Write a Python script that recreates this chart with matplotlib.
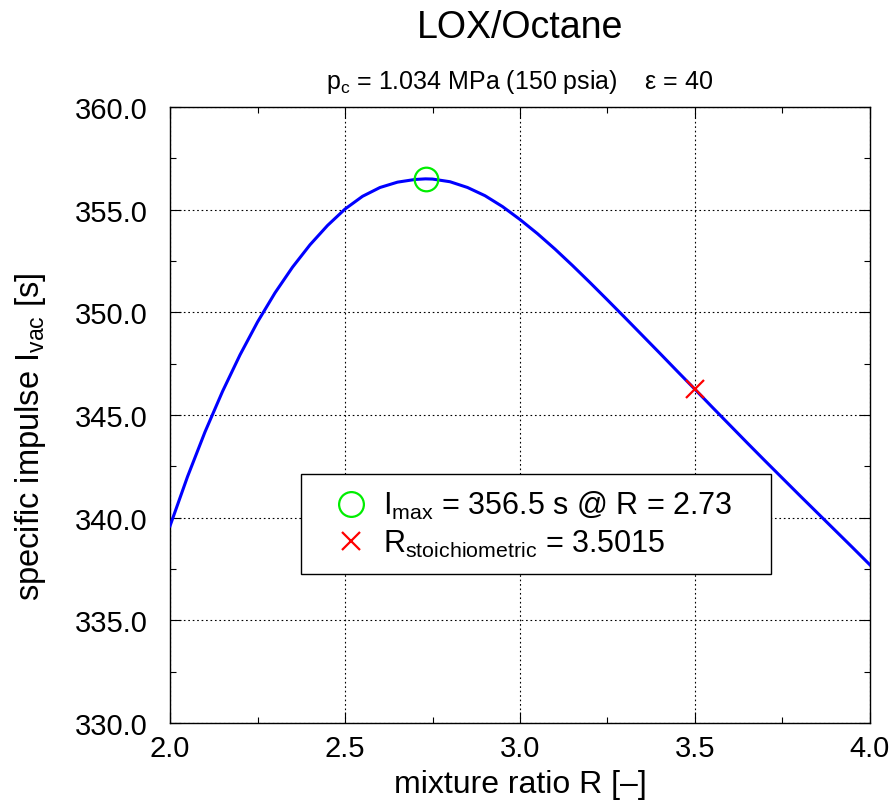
import matplotlib
matplotlib.use('Agg')
import matplotlib.pyplot as plt
from matplotlib.ticker import MultipleLocator

plt.rcParams['font.family'] = ['Liberation Sans', 'DejaVu Sans']
plt.rcParams['mathtext.fontset'] = 'custom'
plt.rcParams['mathtext.rm'] = 'Liberation Sans'
plt.rcParams['mathtext.it'] = 'Liberation Sans'
plt.rcParams['mathtext.default'] = 'regular'

# mixture ratio vs vacuum specific impulse
R = [2.00, 2.05, 2.10, 2.15, 2.20, 2.25, 2.30, 2.35, 2.40, 2.45,
     2.50, 2.55, 2.60, 2.65, 2.70, 2.73, 2.75, 2.80, 2.85, 2.90,
     2.95, 3.00, 3.05, 3.10, 3.15, 3.20, 3.25, 3.30, 3.35, 3.40,
     3.45, 3.50, 3.55, 3.60, 3.65, 3.70, 3.75, 3.80, 3.85, 3.90,
     3.95, 4.00]
Isp = [339.60, 342.00, 344.18, 346.15, 347.93, 349.53, 350.95, 352.20, 353.29, 354.23,
       355.03, 355.65, 356.08, 356.34, 356.47, 356.50, 356.49, 356.36, 356.08, 355.68,
       355.15, 354.52, 353.83, 353.08, 352.28, 351.45, 350.60, 349.74, 348.87, 348.00,
       347.12, 346.25, 345.37, 344.50, 343.63, 342.77, 341.92, 341.07, 340.23, 339.39,
       338.55, 337.70]

R_opt = 2.73
I_max = 356.5
R_stoich = 3.5015
I_stoich = 346.25

fig = plt.figure(figsize=(8.95, 8.12), dpi=100)
ax = fig.add_axes([0.19, 0.1084, 0.782, 0.7586])

ax.plot(R, Isp, color='#0000ff', lw=2.2, zorder=3)
ax.plot(R_opt, I_max, 'o', mfc='none', mec='#00ee00', mew=1.6, ms=17,
        ls='none', zorder=4, label='I$_{max}$ = 356.5 s @ R = 2.73')
ax.plot(R_stoich, I_stoich, 'x', color='#ff0000', mew=1.6, ms=13,
        ls='none', zorder=4, label='R$_{stoichiometric}$ = 3.5015')

ax.set_xlim(2.0, 4.0)
ax.set_ylim(330, 360)
ax.xaxis.set_major_locator(MultipleLocator(0.5))
ax.xaxis.set_minor_locator(MultipleLocator(0.25))
ax.yaxis.set_major_locator(MultipleLocator(5))
ax.yaxis.set_minor_locator(MultipleLocator(2.5))
ax.xaxis.set_major_formatter('{x:.1f}')
ax.yaxis.set_major_formatter('{x:.1f}')
ax.tick_params(which='both', direction='in', top=True, right=True,
               labelsize=21, color='black')
ax.tick_params(which='major', length=8, width=0.8)
ax.tick_params(which='minor', length=4, width=0.8)
ax.tick_params(axis='x', which='major', pad=8)
ax.tick_params(axis='y', which='major', pad=16)
ax.grid(True, which='major', color='black', ls=(0, (1.5, 2.5)), lw=0.8)
for s in ax.spines.values():
    s.set_linewidth(1.0)

ax.set_xlabel('mixture ratio R [–]', fontsize=23, labelpad=5)
ax.set_ylabel('specific impulse I$_{vac}$ [s]', fontsize=23.5)
ax.yaxis.set_label_coords(-0.174, 0.466)
ax.text(0.5, 1.13, 'LOX/Octane', transform=ax.transAxes, ha='center',
        va='center', fontsize=27)
ax.text(0.5, 1.042, 'p$_c$ = 1.034 MPa (150 psia)    ε = 40',
        transform=ax.transAxes, ha='center', va='center', fontsize=18)

leg = ax.legend(loc='upper left', bbox_to_anchor=(0.187, 0.247, 0.672, 0.157),
                mode='expand', borderaxespad=0, fontsize=22, fancybox=False,
                framealpha=1, edgecolor='black', handlelength=2.3,
                handletextpad=-0.1, labelspacing=0.2, borderpad=0.5,
                markerscale=1.05)
leg.get_frame().set_linewidth(1.0)
leg.set_zorder(5)

fig.savefig('out.png', dpi=100)
